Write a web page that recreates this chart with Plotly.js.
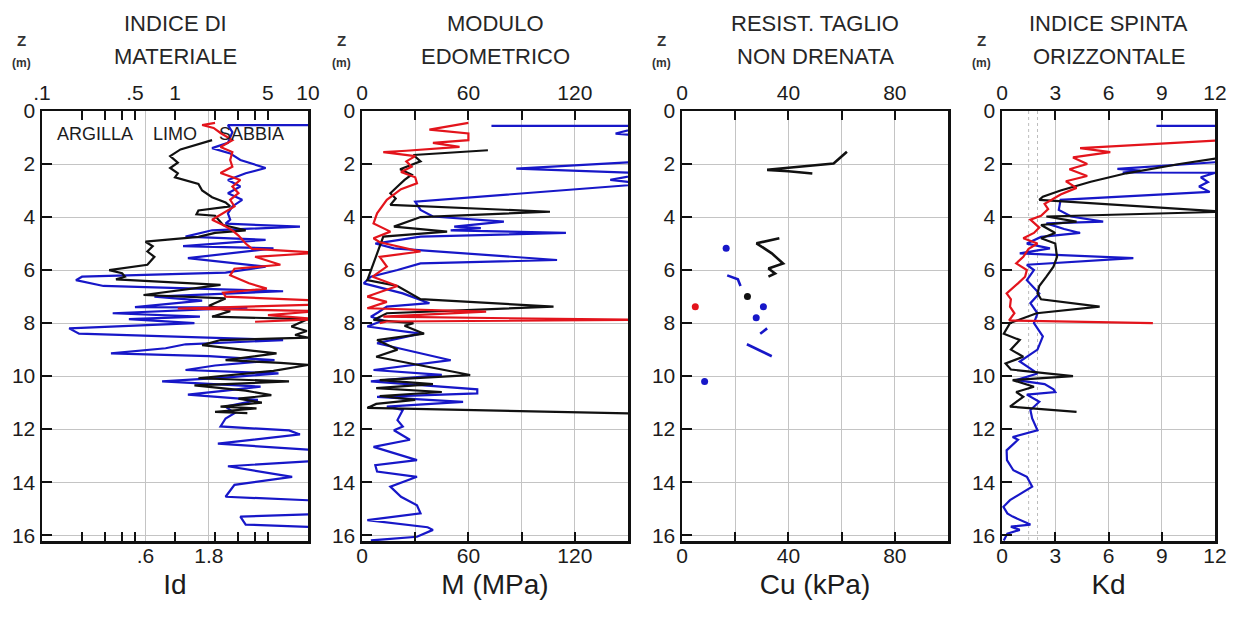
<!DOCTYPE html>
<html><head><meta charset="utf-8">
<script src="https://cdn.plot.ly/plotly-3.0.1.min.js"></script>
<style>html,body{margin:0;padding:0;background:#fff}#chart{width:1238px;height:617px}</style>
</head><body><div id="chart"></div>
<script>
// ---------- PANEL 1 : Id (log) ----------
const id_blk_z = [1.1,1.3,1.45,1.7,1.95,2.15,2.35,2.5,2.75,3.0,3.25,3.45,3.6,3.75,3.9,3.95,4.3,4.5,4.6,4.75,4.93,5.1,5.3,5.5,5.8,6.0,6.12,6.25,6.35,6.56,6.94,7.07,7.35,7.55,7.76,7.85,8.13,8.3,8.45,8.55,8.64,8.83,9.14,9.4,9.5,9.58,9.8,10.08,10.2,10.35,10.55,10.72,10.85,11.0,11.15,11.22,11.35,11.4];
const id_blk   = [1.9,1.4,1.1,0.92,1.05,0.92,1.05,1.0,1.5,1.6,1.9,2.4,2.6,1.5,1.45,2.0,2.3,3.4,2.0,1.5,0.6,0.68,0.62,0.7,0.62,0.32,0.4,0.42,0.36,2.2,0.58,2.4,1.8,2.6,1.9,10,7.5,9.8,8,10,2.2,1.6,5.8,2.4,6.2,10,5.5,1.5,7.2,1.4,3.4,5.3,3.0,4.5,2.2,4.1,2.0,3.5];
const id_red_z = [0.45,0.53,0.64,0.83,1.1,1.36,1.55,1.85,2.1,2.34,2.6,2.85,3.1,3.35,3.6,3.9,4.1,4.3,4.5,4.7,5.0,5.2,5.35,5.5,5.8,5.95,6.2,6.5,6.7,6.85,7.0,7.15,7.3,7.45,7.55,7.7,7.85,7.95];
const id_red   = [2.0,1.6,1.95,2.2,2.7,2.2,2.7,2.6,2.7,2.2,3.1,2.7,3.0,2.6,2.8,2.2,1.9,2.3,2.7,3.0,3.4,3.8,12,4.0,6.2,2.8,2.6,3.6,4.9,2.3,2.4,12,12,1.05,12,5,12,4];
const id_blu_z = [0.53,0.53,0.8,1.2,1.4,1.6,1.85,2.15,2.35,2.6,2.85,3.1,3.35,3.6,3.86,4.1,4.25,4.36,4.5,4.74,4.86,5.1,5.18,5.55,5.87,6.1,6.25,6.38,6.6,6.8,7.0,7.15,7.4,7.42,7.63,7.76,7.85,8.0,8.2,8.4,8.64,8.8,8.95,9.14,9.25,9.4,9.6,9.77,9.9,10.05,10.2,10.4,10.55,10.7,10.9,11.15,11.4,11.6,11.9,12.05,12.2,12.55,12.8,13.2,13.4,13.8,14.1,14.55,14.7,15.2,15.3,15.6,15.7,16.2];
const id_blu   = [12,2.5,2.7,2.5,1.9,2.6,3.1,4.8,3.4,2.5,3.1,2.5,3.2,2.7,2.5,2.6,2.4,8.7,1.9,1.2,4.8,1.15,5.5,1.25,4.8,2.4,0.2,0.18,0.29,6.5,0.7,1.6,0.5,3.5,0.34,1.54,0.45,1.4,0.16,0.19,6.5,1.2,0.85,0.33,1.8,5.6,2.0,1.2,6,2.5,0.8,4.4,2.4,1.25,4.2,2.4,2.8,2.4,2.2,7.2,8.7,2.1,12,11,2.5,7.6,2.8,2.4,12,12,3.1,3.4,12,12];
const id_top_ticks  = [0.1,0.2,0.3,0.4,0.5,1,2,3,4,5,10];
const id_top_labels = ['.1','','','','.5','1','','','','5','10'];
const id_bot_ticks  = [0.6,1.8];
const id_bot_labels = ['.6','1.8'];
const id_classes = ['ARGILLA','LIMO','SABBIA'];
const id_class_pos = [0.25,1.0,3.75];

// ---------- PANEL 2 : M (MPa) ----------
const m_red_z = [0.45,0.7,0.85,1.1,1.2,1.35,1.5,1.55,1.7,1.9,2.1,2.3,2.5,2.73,2.95,3.35,3.86,4.24,4.55,4.8,4.95,5.3,5.5,5.87,6.25,6.6,7.0,7.2,7.44,7.57,7.76,7.88,7.94,8.0];
const m_red   = [60,38,60,60,40,55,25,12,30,25,28,22,30,31,22,14,8.5,6.5,16,6.5,10,33,10,14,6,20,3,14,3,70,12,160,14,10];
const m_blk_z = [1.48,1.66,1.9,2.2,2.4,2.6,2.85,3.1,3.3,3.54,3.8,4.0,4.36,4.55,4.74,5.1,5.6,6.05,6.38,6.6,7.1,7.38,7.63,7.88,8.0,8.1,8.4,8.64,9.0,9.27,9.96,10.15,10.3,10.45,10.6,10.75,10.9,11.05,11.2,11.42];
const m_blk   = [71,29,33,21.5,28,24,20,16,19,16,106,33,18,48,12,10,7.5,5,3,20,33,108,14,6.5,29,24,35,8.5,20,8,61,10,40,8,45,10,30,8,3,160];
const m_blu_z = [0.56,0.56,0.85,0.95,1.9,2.17,2.35,2.6,2.75,3.42,3.73,3.86,3.98,4.17,4.36,4.42,4.5,4.6,4.74,5.0,5.18,5.62,5.75,6.0,6.25,6.5,6.88,7.25,7.38,7.6,7.76,7.9,8.13,8.4,8.76,9.4,9.77,9.95,10.2,10.5,10.65,10.78,10.97,11.15,11.28,11.66,11.9,12.04,12.4,12.67,13.17,13.36,13.6,13.8,14.17,14.55,14.87,15.18,15.43,15.7,15.8,16.06,16.2];
const m_blu   = [73,160,143,160,160,87,160,140,160,30,33,37,40,80,52,67,50,115,33,7.5,18,110,33,20,5,1,23,38,14,9,5,12,3,33,8.5,50,6.5,45,5,65,65,8.5,57,14,23,20,23,18,27,6.5,31,7.5,8.5,31,16,22,31,33,3,37,40,31,5];
const m_ticks  = [0,30,60,90,120,150];
const m_labels = ['0','','60','','120',''];

// ---------- PANEL 3 : Cu (kPa) ----------
const cu_blk_z = [1.54,1.8,1.98,2.15,2.22,2.27,2.36,null,4.8,4.99,5.37,5.75,5.94,6.13,6.25];
const cu_blk   = [62,59,57,39,32,40,49,null,36.6,28,33.75,38,32.5,35,32.5];
const cu_blu_z = [6.2,6.35,6.6,null,8.2,8.4,null,8.8,9.25];
const cu_blu   = [17,21,22,null,32,29.4,null,24.4,33.75];
const cu_blu_pt_z = [5.18,7.38,7.8,10.2];
const cu_blu_pt   = [16.6,30.6,27.9,8.5];
const cu_blk_pt_z = [7.0];
const cu_blk_pt   = [24.6];
const cu_red_pt_z = [7.38];
const cu_red_pt   = [5];
const cu_ticks  = [0,20,40,60,80,100];
const cu_labels = ['0','','40','','80',''];

// ---------- PANEL 4 : Kd ----------
const kd_red_z = [1.1,1.4,1.55,1.75,2.0,2.2,2.45,2.65,2.9,3.15,3.35,3.5,3.7,3.95,4.1,4.4,4.6,4.8,5.0,5.2,5.5,5.75,6.0,6.25,6.5,6.88,7.1,7.38,7.63,7.9,8.0];
const kd_red   = [12.5,4.4,6.1,4.0,4.8,3.8,4.8,3.6,4.2,3.3,2.8,2.4,2.6,2.2,1.6,2.1,1.8,1.2,2.0,1.5,1.2,0.8,1.4,1.3,0.9,0.26,0.5,0.45,0.7,0.4,8.5];
const kd_blk_z = [1.75,2.0,2.35,2.67,3.0,3.23,3.35,3.8,3.98,4.17,4.3,4.6,4.8,5.0,5.5,5.87,6.25,6.6,6.88,7.1,7.38,7.63,8.0,8.4,8.64,9.0,9.27,9.52,9.75,10.0,10.15,10.4,10.6,10.78,11.15,11.35];
const kd_blk   = [12.5,10,7,5,3.3,2.3,2.1,12.5,2.5,4.2,2.2,3.0,2.2,3.0,3.1,2.9,2.5,2.1,2.0,2.2,5.5,1.95,0.45,0.1,1.0,0.5,1.2,0.2,0.5,4.0,0.6,1.8,0.8,1.2,0.45,4.2];
const kd_blu_z = [0.56,0.56,1.91,2.05,2.18,2.25,2.32,2.33,2.5,2.68,2.85,3.05,3.35,3.73,3.98,4.17,4.24,4.45,4.6,4.75,5.0,5.18,5.37,5.55,5.8,6.0,6.38,6.88,7.25,7.63,8.0,8.5,9.0,9.45,9.9,10.15,10.3,10.5,10.6,10.7,10.97,11.28,11.6,12.04,12.3,12.4,12.8,13.17,13.55,13.8,14.17,14.68,14.93,15.18,15.3,15.6,15.68,15.8,15.94,16.2];
const kd_blu   = [8.7,12.5,12.5,9.5,6.5,7.8,6.8,12,11.2,11.6,11.1,11.7,3.3,3.2,3.9,5.7,2.5,3.5,4.4,2.2,1.4,2.7,1.0,7.4,1.4,1.8,1.4,2.1,1.6,2.0,1.8,2.3,2.0,1.0,2.0,0.8,2.4,2.9,3.0,1.4,2.1,1.6,1.7,2.0,0.6,0.9,0.26,0.28,0.64,1.4,1.7,0.45,0.08,0.3,0.6,1.6,0.5,1.0,0.3,0.1];
const kd_ticks = [0,3,6,9,12];
const kd_labels = ['0','3','6','9','12'];
const kd_ref = [1.5,2];

// ---------- common ----------
const depth_ticks = [0,2,4,6,8,10,12,14,16];
const panel_titles = [['INDICE DI','MATERIALE'],['MODULO','EDOMETRICO'],['RESIST. TAGLIO','NON DRENATA'],['INDICE SPINTA','ORIZZONTALE']];
const axis_titles = ['Id','M (MPa)','Cu (kPa)','Kd'];

const W = 1238, H = 617;
const FONT = 'Liberation Sans, Arial, sans-serif';
const BLK = '#111111', RED = '#e3141c', BLU = '#1717c8';
const TXT = '#1c1c1c';
const panelsPx = [[42,308],[362,628],[682,948],[1002,1215]];
const topPx = 111, botPx = 541;
const yDom = [1 - botPx/H, 1 - topPx/H];
const DEPTH_MAX = 16.22;

function ln(x, y, color, p, w) {
  const s = p === 1 ? '' : String(p);
  return {x, y, type:'scatter', mode:'lines', xaxis:'x'+s, yaxis:'y'+s,
    line:{color, width:w||2.2}, hoverinfo:'skip', showlegend:false, connectgaps:false};
}
function pts(x, y, color, p) {
  const s = p === 1 ? '' : String(p);
  return {x, y, type:'scatter', mode:'markers', xaxis:'x'+s, yaxis:'y'+s,
    marker:{color, size:7}, hoverinfo:'skip', showlegend:false};
}

const data = [
  ln(id_blu, id_blu_z, BLU, 1), ln(id_blk, id_blk_z, BLK, 1), ln(id_red, id_red_z, RED, 1),
  ln(m_blu, m_blu_z, BLU, 2), ln(m_blk, m_blk_z, BLK, 2), ln(m_red, m_red_z, RED, 2),
  ln(cu_blk, cu_blk_z, BLK, 3, 2.6), ln(cu_blu, cu_blu_z, BLU, 3, 2.6),
  pts(cu_blu_pt, cu_blu_pt_z, BLU, 3), pts(cu_blk_pt, cu_blk_pt_z, BLK, 3), pts(cu_red_pt, cu_red_pt_z, RED, 3),
  ln(kd_blu, kd_blu_z, BLU, 4), ln(kd_blk, kd_blk_z, BLK, 4), ln(kd_red, kd_red_z, RED, 4)
];
for (let p = 1; p <= 4; p++) {
  data.push({x:[], y:[], type:'scatter', mode:'lines', xaxis:'x'+(p+4), yaxis: p===1?'y':'y'+p, showlegend:false, hoverinfo:'skip'});
}

const ranges = [[-1,1],[0,150],[0,100],[0,12]];
const types = ['log','linear','linear','linear'];
const botTicks = [[id_bot_ticks,id_bot_labels],[[0,30,60,90,120],['0','','60','','120']],[[0,20,40,60,80],['0','','40','','80']],[kd_ticks,kd_labels]];
const topTicks = [[id_top_ticks,id_top_labels],[m_ticks,m_labels],[cu_ticks,cu_labels],[kd_ticks,kd_labels]];

const layout = {
  width: W, height: H, margin:{l:0,r:0,t:0,b:0},
  paper_bgcolor:'#ffffff', plot_bgcolor:'#ffffff',
  font:{family:FONT, color:TXT},
  showlegend:false, annotations:[], shapes:[]
};

for (let p = 1; p <= 4; p++) {
  const s = p === 1 ? '' : String(p);
  const dom = [panelsPx[p-1][0]/W, panelsPx[p-1][1]/W];
  const ysuf = p === 1 ? 'y' : 'y'+p;
  layout['xaxis'+s] = {
    domain: dom, anchor: ysuf, side:'bottom', type: types[p-1], range: ranges[p-1],
    tickmode:'array', tickvals: botTicks[p-1][0], ticktext: botTicks[p-1][1],
    ticks:'', showline:false, zeroline:false,
    showgrid:true, gridcolor:'#c4c4c4', gridwidth:1,
    tickfont:{size:21, family:FONT, color:TXT},
    title:{text: axis_titles[p-1], font:{size:28, family:FONT, color:TXT}, standoff: 8},
    fixedrange:true, automargin:false
  };
  layout['xaxis'+(p+4)] = {
    overlaying: 'x'+s, anchor: ysuf, side:'top', type: types[p-1], range: ranges[p-1],
    tickmode:'array', tickvals: topTicks[p-1][0], ticktext: topTicks[p-1][1],
    ticks:'inside', ticklen:9, tickwidth:2, tickcolor:'#111',
    showline:true, linecolor:'#111', linewidth:2.5, mirror:'ticks',
    showgrid:false, zeroline:false,
    tickfont:{size:21, family:FONT, color:TXT},
    fixedrange:true, automargin:false
  };
  layout['yaxis'+s] = {
    domain: yDom, anchor:'x'+s, range:[DEPTH_MAX, 0],
    tickmode:'array', tickvals: depth_ticks,
    ticks:'inside', ticklen:10, tickwidth:2, tickcolor:'#111',
    showline:true, linecolor:'#111', linewidth:2.5, mirror:true,
    showgrid:true, gridcolor:'#c4c4c4', gridwidth:1, zeroline:false,
    tickfont:{size:21, family:FONT, color:TXT},
    fixedrange:true, automargin:false
  };
  const cx = (panelsPx[p-1][0] + panelsPx[p-1][1]) / 2 / W;
  layout.annotations.push(
    {text: panel_titles[p-1][0], xref:'paper', yref:'paper', x: cx, y: 1 - 24/H, xanchor:'center', yanchor:'middle', showarrow:false, font:{size:22, family:FONT, color:'#262626'}},
    {text: panel_titles[p-1][1], xref:'paper', yref:'paper', x: cx, y: 1 - 56/H, xanchor:'center', yanchor:'middle', showarrow:false, font:{size:22, family:FONT, color:'#262626'}},
    {text: '<b>Z</b>', xref:'paper', yref:'paper', x: (panelsPx[p-1][0]-21)/W, y: 1 - 41/H, xanchor:'center', yanchor:'middle', showarrow:false, font:{size:15, family:FONT, color:'#333'}},
    {text: '<b>(m)</b>', xref:'paper', yref:'paper', x: (panelsPx[p-1][0]-21)/W, y: 1 - 63/H, xanchor:'center', yanchor:'middle', showarrow:false, font:{size:12, family:FONT, color:'#333'}}
  );
}
for (let i = 0; i < id_classes.length; i++) {
  layout.annotations.push({text: id_classes[i], xref:'x', yref:'y', x: Math.log10(id_class_pos[i]), y: 0.85,
    xanchor:'center', yanchor:'middle', showarrow:false, font:{size:18, family:FONT, color:TXT}});
}
for (const v of kd_ref) {
  layout.shapes.push({type:'line', xref:'x4', yref:'y4', x0:v, x1:v, y0:0, y1:DEPTH_MAX, layer:'below',
    line:{color:'#bdbdbd', width:1, dash:'dot'}});
}

Plotly.newPlot('chart', data, layout, {staticPlot:true, displayModeBar:false});
</script></body></html>
